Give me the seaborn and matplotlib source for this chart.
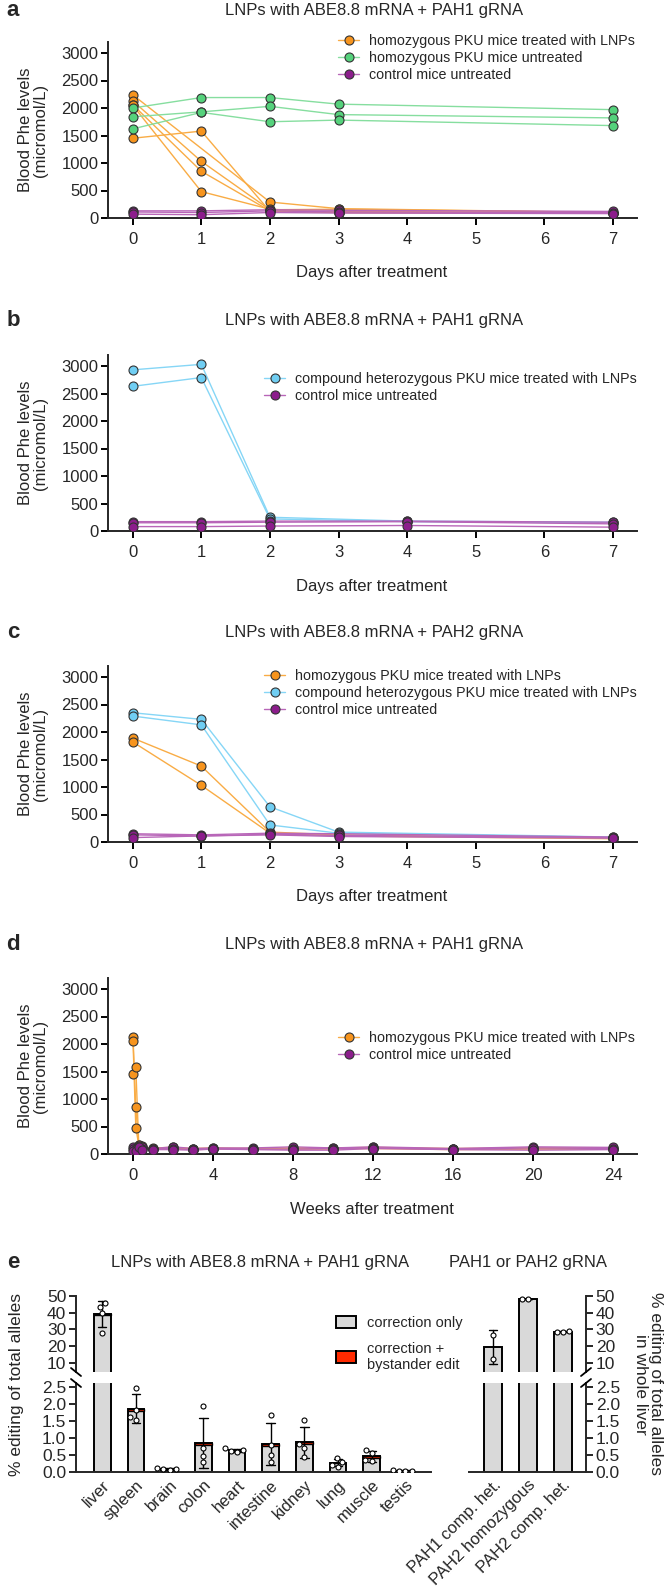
import numpy as np
import pandas as pd
import matplotlib
matplotlib.use("Agg")
import matplotlib.pyplot as plt
import seaborn as sns
from matplotlib.lines import Line2D
from matplotlib.patches import Patch

# ---- Blood Phe levels (micromol/L), one list per mouse ----
days_a = [0, 1, 2, 3, 7]
homo_treated_a = [
    [1450, 1580, 120, 100, 90],
    [2240, np.nan, 290, 170, 100],
    [2130, 1030, 150, 160, 100],
    [2060, 850, 130, 120, 100],
    [2050, 480, 160, 100, 90],
]
homo_untreated_a = [
    [2000, 2190, 2190, 2070, 1970],
    [1840, 1930, 2030, 1880, 1820],
    [1620, 1920, 1750, 1780, 1680],
]
control_a = [
    [130, 130, 150, 140, 120],
    [110, 100, 130, 110, 100],
    [70, 60, 100, 90, 80],
]

days_b = [0, 1, 2, 4, 7]
het_treated_b = [
    [2930, 3030, 250, 180, 160],
    [2630, 2790, 220, 170, 150],
]
control_b = [
    [170, 170, 180, 180, 160],
    [150, 150, 160, 170, 130],
    [80, 80, 90, 100, 70],
]

days_c = [0, 1, 2, 3, 7]
homo_treated_c = [
    [1890, 1380, 180, 130, 70],
    [1820, 1030, 160, 110, 60],
]
het_treated_c = [
    [2350, 2230, 640, 180, 90],
    [2290, 2130, 310, 160, 80],
]
control_c = [
    [150, 130, 160, 150, 90],
    [130, 110, 140, 120, 80],
    [80, 110, 130, 100, 70],
]

weeks_d = [0, 0.14, 0.29, 0.43, 1, 2, 3, 4, 6, 8, 10, 12, 16, 20, 24]
homo_treated_d = [
    [1450, 1580, 150, 130, 100, 110, 90, 100, 90, 100, 100, 110, 90, 100, 100],
    [2130, 850, 170, 150, 90, 100, 80, 90, 100, 90, 90, 100, 80, 90, 90],
    [2060, 480, 160, 110, 110, 120, 100, 110, 100, 110, 110, 120, 100, 110, 110],
]
control_d = [
    [120, 110, 140, 130, 100, 130, 100, 110, 110, 130, 110, 130, 100, 130, 120],
    [90, 100, 110, 100, 90, 100, 80, 100, 90, 90, 100, 110, 90, 110, 100],
    [60, 60, 120, 80, 80, 80, 70, 90, 80, 70, 70, 100, 80, 70, 80],
]

# ---- % editing of total alleles ----
tissues = ["liver", "spleen", "brain", "colon", "heart", "intestine",
           "kidney", "lung", "muscle", "testis"]
tissue_edit = [
    [43.4, 45.8, 39.9, 27.9],
    [2.47, 1.82, 1.53, 1.62],
    [0.13, 0.09, 0.07, 0.10],
    [1.93, 0.72, 0.48, 0.30],
    [0.70, 0.64, 0.62, 0.60],
    [1.68, 0.80, 0.50, 0.30],
    [1.52, 0.82, 0.72, 0.45],
    [0.40, 0.30, 0.22, 0.16],
    [0.65, 0.55, 0.35, 0.32],
    [0.06, 0.04, 0.03, 0.04],
]
tissue_bystander = [0.6, 0.06, 0.01, 0.05, 0.01, 0.05, 0.04, 0.01, 0.07, 0.005]
liver_groups = ["PAH1 comp. het.", "PAH2 homozygous", "PAH2 comp. het."]
liver_edit = [[26.7, 12.4], [48.0, 48.3], [28.2, 29.0, 28.6]]

ORANGE, ORANGE_L = "#F7941D", "#F9AC45"
GREEN, GREEN_L = "#55D27C", "#86DE9F"
BLUE, BLUE_L = "#70CEF3", "#86D6F6"
PURPLE, PURPLE_L = "#8C1D8C", "#B866B8"
EDGE = "#333333"
GREY, RED = "#D9D9D9", "#FF2A00"

sns.set_theme(style="ticks")
plt.rcParams["font.family"] = ["Liberation Sans", "DejaVu Sans"]
plt.rcParams["axes.linewidth"] = 1.4

W, H = 666, 1587
fig = plt.figure(figsize=(W / 100, H / 100), dpi=100)


def add_ax(left, top, right, bottom):
    return fig.add_axes([left / W, 1 - bottom / H, (right - left) / W, (bottom - top) / H])


def ftext(x, y, s, **kw):
    fig.text(x / W, 1 - y / H, s, **kw)


def to_long(times, mice):
    rows = []
    for i, vals in enumerate(mice):
        for t, v in zip(times, vals):
            if not np.isnan(v):
                rows.append((i, t, v))
    return pd.DataFrame(rows, columns=["mouse", "time", "phe"])


def draw_group(ax, times, mice, col, col_l):
    df = to_long(times, mice)
    sns.lineplot(data=df, x="time", y="phe", units="mouse", estimator=None,
                 color=col_l, linewidth=1.0, legend=False, ax=ax)
    sns.scatterplot(data=df, x="time", y="phe", color=col, edgecolor=EDGE,
                    linewidth=0.8, s=42, legend=False, ax=ax, zorder=3)


def style_line_ax(ax, xlim, xticks):
    ax.set_xlim(xlim)
    ax.set_ylim(0, 3200)
    ax.set_xticks(xticks)
    ax.set_yticks(range(0, 3001, 500))
    ax.set_xlabel("")
    ax.set_ylabel("")
    sns.despine(ax=ax)
    ax.tick_params(axis="both", labelsize=12, length=5, width=1.4, color="black")
    ax.tick_params(axis="x", pad=5)
    ax.tick_params(axis="y", pad=2)


def legend_handle(col, col_l):
    return Line2D([0], [0], color=col_l, lw=1.0, marker="o", ms=6.5,
                  mfc=col, mec=EDGE, mew=0.8)


def line_legend(handles, labels, x, y):
    fig.legend(handles, labels, loc="upper left", bbox_to_anchor=(x / W, 1 - y / H),
               frameon=False, fontsize=10.3, handlelength=1.5, handletextpad=0.7,
               labelspacing=0.22, borderpad=0, borderaxespad=0)


title1 = "LNPs with ABE8.8 mRNA + PAH1 gRNA"
title2 = "LNPs with ABE8.8 mRNA + PAH2 gRNA"
lab_homo_t = "homozygous PKU mice treated with LNPs"
lab_homo_u = "homozygous PKU mice untreated"
lab_het_t = "compound heterozygous PKU mice treated with LNPs"
lab_ctrl = "control mice untreated"

L, R = 108, 637
panels = [
    ("a", title1, 10, 42, 218, "Days after treatment"),
    ("b", title1, 320, 355, 531, "Days after treatment"),
    ("c", title2, 633, 666, 842, "Days after treatment"),
    ("d", title1, 945, 978, 1154, "Weeks after treatment"),
]
axes = {}
for letter, title, ty, top, bot, xlab in panels:
    ax = add_ax(L, top, R, bot)
    axes[letter] = ax
    ftext(13, ty, letter, fontsize=16, fontweight="bold", ha="center", va="center")
    ftext(374, ty, title, fontsize=12, ha="center", va="center")
    ftext(372, bot + 55, xlab, fontsize=12, ha="center", va="center")
    ftext(33, (top + bot) / 2, "Blood Phe levels\n(micromol/L)", fontsize=12,
          rotation=90, ha="center", va="center", multialignment="center",
          linespacing=1.0)

# a
ax = axes["a"]
draw_group(ax, days_a, homo_treated_a, ORANGE, ORANGE_L)
draw_group(ax, days_a, homo_untreated_a, GREEN, GREEN_L)
draw_group(ax, days_a, control_a, PURPLE, PURPLE_L)
style_line_ax(ax, (-0.36, 7.35), range(0, 8))
line_legend([legend_handle(ORANGE, ORANGE_L), legend_handle(GREEN, GREEN_L),
             legend_handle(PURPLE, PURPLE_L)],
            [lab_homo_t, lab_homo_u, lab_ctrl], 338, 34)

# b
ax = axes["b"]
draw_group(ax, days_b, het_treated_b, BLUE, BLUE_L)
draw_group(ax, days_b, control_b, PURPLE, PURPLE_L)
style_line_ax(ax, (-0.36, 7.35), range(0, 8))
line_legend([legend_handle(BLUE, BLUE_L), legend_handle(PURPLE, PURPLE_L)],
            [lab_het_t, lab_ctrl], 264, 372)

# c
ax = axes["c"]
draw_group(ax, days_c, homo_treated_c, ORANGE, ORANGE_L)
draw_group(ax, days_c, het_treated_c, BLUE, BLUE_L)
draw_group(ax, days_c, control_c, PURPLE, PURPLE_L)
style_line_ax(ax, (-0.36, 7.35), range(0, 8))
line_legend([legend_handle(ORANGE, ORANGE_L), legend_handle(BLUE, BLUE_L),
             legend_handle(PURPLE, PURPLE_L)],
            [lab_homo_t, lab_het_t, lab_ctrl], 264, 669)

# d
ax = axes["d"]
draw_group(ax, weeks_d, homo_treated_d, ORANGE, ORANGE_L)
draw_group(ax, weeks_d, control_d, PURPLE, PURPLE_L)
style_line_ax(ax, (-1.25, 25.2), range(0, 25, 4))
line_legend([legend_handle(ORANGE, ORANGE_L), legend_handle(PURPLE, PURPLE_L)],
            [lab_homo_t, lab_ctrl], 338, 1031)

# e : broken-axis bar charts
UP_T, UP_B, LO_T, LO_B = 1296, 1372, 1383, 1472
df_t = pd.DataFrame([(t, v) for t, vals in zip(tissues, tissue_edit) for v in vals],
                    columns=["group", "pct"])
df_l = pd.DataFrame([(g, v) for g, vals in zip(liver_groups, liver_edit) for v in vals],
                    columns=["group", "pct"])


def draw_bars(ax, df, order, bystander=None):
    sns.barplot(data=df, x="group", y="pct", order=order, color=GREY,
                edgecolor="black", linewidth=1.4, width=0.5, errorbar="sd",
                capsize=0.25, err_kws={"color": "black", "linewidth": 1.0}, ax=ax)
    if bystander is not None:
        means = df.groupby("group")["pct"].mean().reindex(order).to_numpy()
        by = np.array(bystander)
        ax.bar(range(len(order)), by, bottom=means - by, width=0.5, color=RED,
               edgecolor="black", linewidth=1.0)
    sns.swarmplot(data=df, x="group", y="pct", order=order, size=3.6,
                  color="white", edgecolor="black", linewidth=0.8, ax=ax)
    ax.set_xlabel("")
    ax.set_ylabel("")


ax_lu = add_ax(76, UP_T, 431, UP_B)
ax_ll = add_ax(76, LO_T, 431, LO_B)
ax_ru = add_ax(469, UP_T, 586, UP_B)
ax_rl = add_ax(469, LO_T, 586, LO_B)

for ax in (ax_lu, ax_ll):
    draw_bars(ax, df_t, tissues, tissue_bystander)
    ax.set_xlim(-0.78, 9.76)
for ax in (ax_ru, ax_rl):
    draw_bars(ax, df_l, liver_groups)
    ax.set_xlim(-0.69, 2.66)

for ax in (ax_lu, ax_ru):
    ax.set_ylim(4.6, 50)
    ax.set_yticks([10, 20, 30, 40, 50])
    ax.set_xticks([])
for ax in (ax_ll, ax_rl):
    ax.set_ylim(0, 2.62)
    ax.set_yticks([0, 0.5, 1.0, 1.5, 2.0, 2.5])
    ax.set_yticklabels(["0.0", "0.5", "1.0", "1.5", "2.0", "2.5"])

sns.despine(ax=ax_lu, bottom=True)
sns.despine(ax=ax_ll)
sns.despine(ax=ax_ru, left=True, right=False, bottom=True)
sns.despine(ax=ax_rl, left=True, right=False)
for ax in (ax_ru, ax_rl):
    ax.yaxis.tick_right()
for ax in (ax_lu, ax_ll, ax_ru, ax_rl):
    ax.tick_params(axis="y", labelsize=12.5, length=5, width=1.4, pad=2)
    ax.tick_params(axis="x", length=0, labelsize=12, pad=4)
for ax, labels in ((ax_ll, tissues), (ax_rl, liver_groups)):
    ax.set_xticks(range(len(labels)))
    ax.set_xticklabels(labels, rotation=45, ha="right", rotation_mode="anchor")

# break marks on the y spines
for x0, sign in ((76, 1), (586, -1)):
    for yc in (UP_B, LO_T):
        fig.add_artist(Line2D([(x0 - 5 * sign) / W, (x0 + 5 * sign) / W],
                              [1 - (yc - 4) / H, 1 - (yc + 4) / H],
                              transform=fig.transFigure, color="black", lw=1.3))

ftext(13, 1263, "e", fontsize=16, fontweight="bold", ha="center", va="center")
ftext(260, 1263, title1, fontsize=12, ha="center", va="center")
ftext(528, 1263, "PAH1 or PAH2 gRNA", fontsize=12, ha="center", va="center")
ftext(17, (UP_T + LO_B) / 2, "% editing of total alleles", fontsize=12.5,
      rotation=90, ha="center", va="center")
ftext(648, (UP_T + LO_B) / 2, "% editing of total alleles\nin whole liver", fontsize=12.5,
      rotation=270, ha="center", va="center", multialignment="center", linespacing=1.0)

fig.legend([Patch(facecolor=GREY, edgecolor="black", lw=1.4),
            Patch(facecolor=RED, edgecolor="black", lw=1.4)],
           ["correction only", "correction +\nbystander edit"],
           loc="upper left", bbox_to_anchor=(336 / W, 1 - 1316 / H), frameon=False,
           fontsize=10.5, handlelength=1.4, handleheight=0.9, handletextpad=0.7,
           labelspacing=0.8, borderpad=0, borderaxespad=0)

fig.savefig("out.png", dpi=100)
